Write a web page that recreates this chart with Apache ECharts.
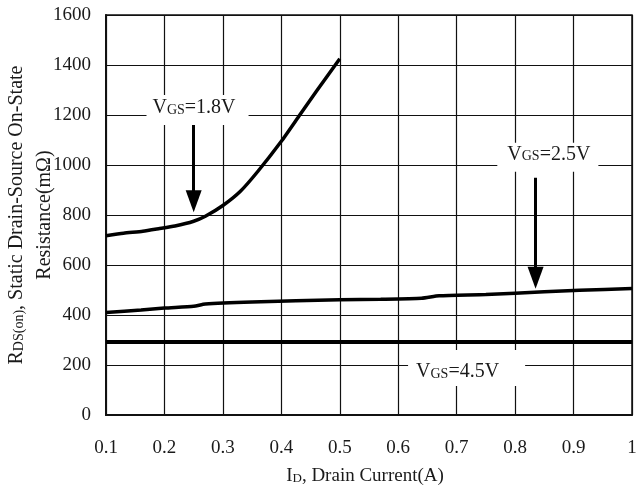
<!DOCTYPE html>
<html><head><meta charset="utf-8">
<script src="https://cdn.jsdelivr.net/npm/echarts@6/dist/echarts.min.js"></script>
<style>html,body{margin:0;padding:0;background:#fff}#c{width:637px;height:486px}</style>
</head><body><div id="c"></div>
<script>
const xTickLabels = ['0.1','0.2','0.3','0.4','0.5','0.6','0.7','0.8','0.9','1'];
const yTickLabels = ['0','200','400','600','800','1000','1200','1400','1600'];
const vgs18 = [[0.1,717],[0.13,727],[0.163,735],[0.19,745],[0.218,756],[0.25,775],[0.27,795],[0.3,838],[0.33,895],[0.36,975],[0.4,1095],[0.43,1195],[0.46,1295],[0.5,1425]];
const vgs25 = [[0.1,410],[0.16,420],[0.2,428],[0.25,435],[0.27,444],[0.35,452],[0.5,461],[0.57,463],[0.64,467],[0.67,477],[0.75,482],[0.85,493],[0.91,499],[1.0,506]];
const vgs45 = [[0.1,292],[1.0,292]];
const labelNames = ['1.8V','2.5V','4.5V'];
const labelPos = [[0.2566,1220],[0.856,1031],[0.717,188]];
const arrows = [[[0.25,1170],[0.25,855]],[[0.835,949],[0.835,549]]];

const FONT = 'Liberation Serif';
const TXT = '#1a1a1a';
const richLbl = {
  n: {fontFamily: FONT, fontSize: 20, color: TXT},
  s: {fontFamily: FONT, fontSize: 14, color: TXT, padding: [4,0,0,0]}
};
function mkLabel(i, pad) {
  return {
    coord: labelPos[i], symbol: 'circle', symbolSize: 1,
    itemStyle: {color: 'rgba(0,0,0,0)'},
    label: {show: true, position: 'inside', formatter: '{n|V}{s|GS}{n|=' + labelNames[i] + '}',
      backgroundColor: '#fff', padding: pad, rich: richLbl}
  };
}
const chart = echarts.init(document.getElementById('c'), null, {renderer: 'canvas'});
const lineBase = {type: 'line', showSymbol: false, symbol: 'none', animation: false, silent: true, smooth: 0.2};
chart.setOption({
  animation: false,
  backgroundColor: '#fff',
  grid: {left: 106, right: 5, top: 15, bottom: 71, show: true, borderColor: '#111', borderWidth: 1.5,
    containLabel: false, outerBoundsMode: 'none'},
  xAxis: {
    type: 'value', min: 0.1, max: 1, interval: 0.1,
    axisLine: {show: true, onZero: false, lineStyle: {color: '#111', width: 2}},
    axisTick: {show: false},
    splitLine: {show: true, lineStyle: {color: '#111', width: 1.2}},
    axisLabel: {margin: 24, fontFamily: FONT, fontSize: 19, color: TXT,
      formatter: v => xTickLabels[Math.round(v * 10) - 1]},
    name: '{n|I}{s|D}{n|, Drain Current(A)}', nameLocation: 'middle', nameGap: 52, nameMoveOverlap: false,
    nameTextStyle: {padding: [0, 8, 0, 0], rich: {
      n: {fontFamily: FONT, fontSize: 19, color: TXT},
      s: {fontFamily: FONT, fontSize: 13, color: TXT, padding: [4,0,0,0]}}}
  },
  yAxis: {
    type: 'value', min: 0, max: 1600, interval: 200,
    axisLine: {show: true, lineStyle: {color: '#111', width: 2}},
    axisTick: {show: false},
    splitLine: {show: true, lineStyle: {color: '#111', width: 1.2}},
    axisLabel: {margin: 15, fontFamily: FONT, fontSize: 19, color: TXT,
      formatter: v => yTickLabels[Math.round(v / 200)]},
    name: '{n|R}{s|DS(on)}{n|, Static Drain-Source On-State}\n{n|Resistance(mΩ)}',
    nameLocation: 'middle', nameRotate: 90, nameGap: 47, nameMoveOverlap: false,
    nameTextStyle: {align: 'center', rich: {
      n: {fontFamily: FONT, fontSize: 20, color: TXT, lineHeight: 28},
      s: {fontFamily: FONT, fontSize: 14, color: TXT, lineHeight: 28, padding: [5,0,0,0]}}}
  },
  series: [
    Object.assign({}, lineBase, {name: 'VGS=1.8V', data: vgs18, lineStyle: {color: '#000', width: 3.5},
      markPoint: {silent: true, animation: false, data: [mkLabel(0, [3,13,7,6])]},
      markLine: {silent: true, animation: false, symbol: ['none','triangle'], symbolSize: [16, 22],
        label: {show: false}, lineStyle: {color: '#000', width: 3, type: 'solid'},
        data: [[{coord: arrows[0][0]}, {coord: arrows[0][1]}]]}}),
    Object.assign({}, lineBase, {name: 'VGS=2.5V', data: vgs25, lineStyle: {color: '#000', width: 3.5},
      markPoint: {silent: true, animation: false, data: [mkLabel(1, [2,8,7,10])]},
      markLine: {silent: true, animation: false, symbol: ['none','triangle'], symbolSize: [16, 22],
        label: {show: false}, lineStyle: {color: '#000', width: 3, type: 'solid'},
        data: [[{coord: arrows[1][0]}, {coord: arrows[1][1]}]]}}),
    Object.assign({}, lineBase, {name: 'VGS=4.5V', data: vgs45, smooth: false, lineStyle: {color: '#000', width: 4},
      markPoint: {silent: true, animation: false, data: [mkLabel(2, [12,26,4,8])]}})
  ]
});
</script></body></html>
